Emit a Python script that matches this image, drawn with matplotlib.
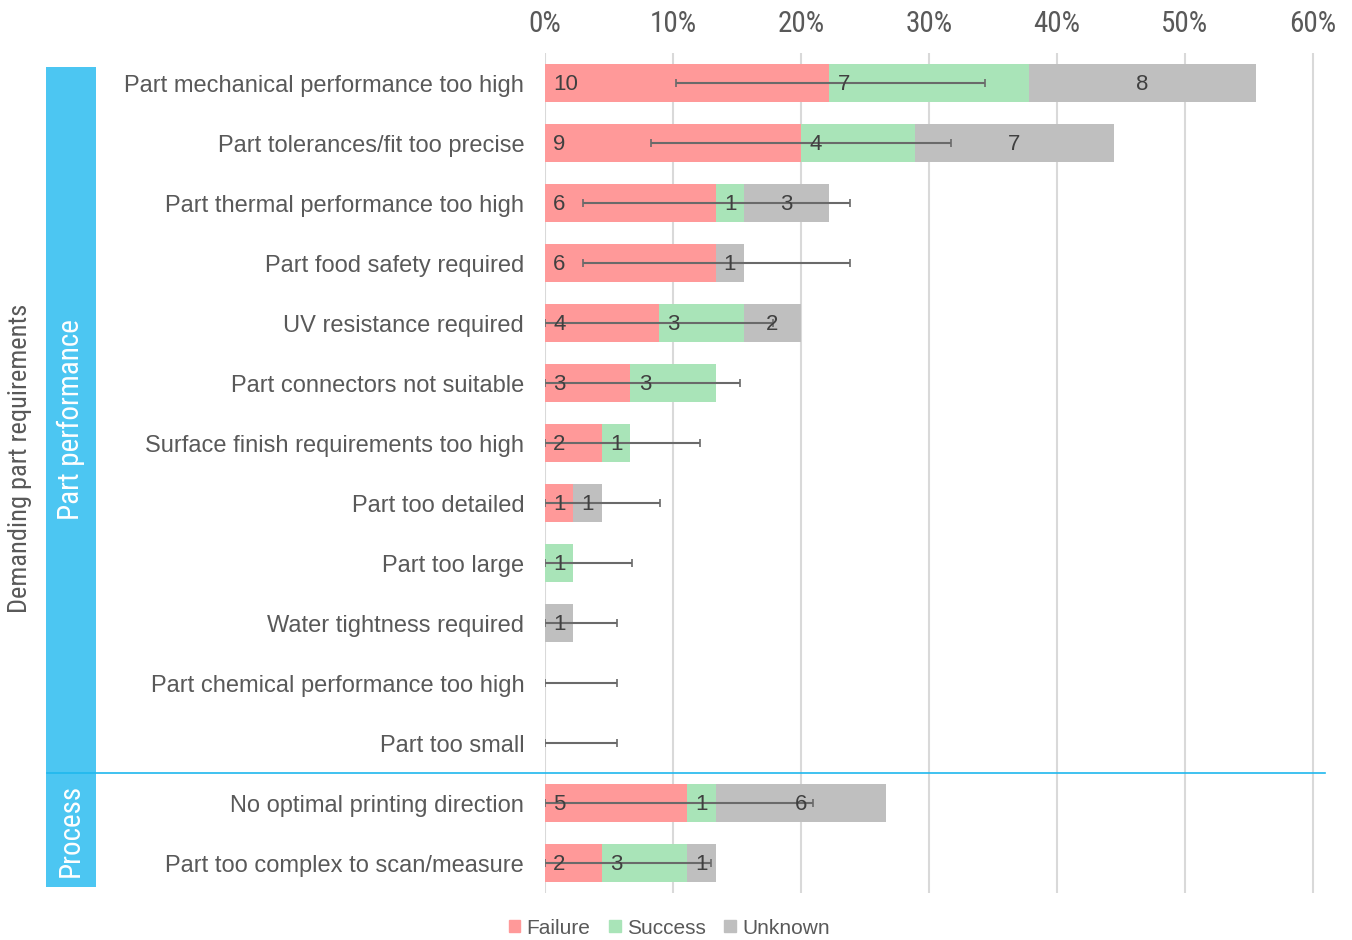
import matplotlib
matplotlib.use("Agg")
import matplotlib.pyplot as plt
import matplotlib.transforms as mtransforms
from matplotlib.patches import Rectangle, Patch
from matplotlib.lines import Line2D
from matplotlib.ticker import PercentFormatter
import numpy as np

# data (counts out of 45 cases)
categories = [
    "Part mechanical performance too high",
    "Part tolerances/fit too precise",
    "Part thermal performance too high",
    "Part food safety required",
    "UV resistance required",
    "Part connectors not suitable",
    "Surface finish requirements too high",
    "Part too detailed",
    "Part too large",
    "Water tightness required",
    "Part chemical performance too high",
    "Part too small",
    "No optimal printing direction",
    "Part too complex to scan/measure",
]
failure = [10, 9, 6, 6, 4, 3, 2, 1, 0, 0, 0, 0, 5, 2]
success = [7, 4, 1, 0, 3, 3, 1, 0, 1, 0, 0, 0, 1, 3]
unknown = [8, 7, 3, 1, 2, 0, 0, 1, 0, 1, 0, 0, 6, 1]
n_total = 45
# confidence interval of failure share, in %
ci_low = [10.2, 8.3, 3.0, 3.0, 0, 0, 0, 0, 0, 0, 0, 0, 0, 0]
ci_high = [34.4, 31.7, 23.8, 23.8, 17.8, 15.2, 12.1, 9.0, 6.8, 5.6, 5.6, 5.6, 20.9, 13.0]
groups = ["Part performance", "Process"]
outer_label = "Demanding part requirements"

col_fail = "#FF9999"
col_succ = "#A9E4B8"
col_unk = "#BFBFBF"
col_text = "#595959"
col_group = "#4CC6F2"
narrow = ["Roboto Condensed", "Liberation Sans Narrow", "DejaVu Sans Condensed", "DejaVu Sans"]

fig = plt.figure(figsize=(13.52, 9.4), dpi=100)
ax = fig.add_axes([545 / 1352, 47 / 940, 780 / 1352, 840 / 940])

y = np.arange(len(categories))
f = np.array(failure) / n_total * 100
s = np.array(success) / n_total * 100
u = np.array(unknown) / n_total * 100

ax.barh(y, f, height=0.62, color=col_fail, zorder=2)
ax.barh(y, s, left=f, height=0.62, color=col_succ, zorder=2)
ax.barh(y, u, left=f + s, height=0.62, color=col_unk, zorder=2)

lo = np.clip(f - np.array(ci_low), 0, None)
hi = np.array(ci_high) - f
ax.errorbar(f, y, xerr=[lo, hi], fmt="none", ecolor="#6a6a6a", elinewidth=1.5,
            capsize=3, capthick=1.2, zorder=3)

# count labels
lab_kw = dict(fontsize=16, color="#404040", family="Liberation Sans", zorder=4)
for i in range(len(categories)):
    if failure[i] > 0:
        ax.annotate(str(failure[i]), (0, y[i] + 0.02), xytext=(6, 0), textcoords="offset points",
                    ha="left", va="center", **lab_kw)
    if success[i] > 0:
        ax.annotate(str(success[i]), (f[i], y[i] + 0.02), xytext=(6, 0), textcoords="offset points",
                    ha="left", va="center", **lab_kw)
    if unknown[i] > 0:
        ax.text(f[i] + s[i] + u[i] / 2, y[i] + 0.02, str(unknown[i]), ha="center", va="center",
                **lab_kw)

ax.set_xlim(0, 780 / 12.8)
ax.set_ylim(len(categories) - 0.5, -0.5)
ax.set_xticks(np.arange(0, 61, 10))
ax.xaxis.set_major_formatter(PercentFormatter(xmax=100, decimals=0))
ax.xaxis.tick_top()
ax.tick_params(axis="x", length=0, pad=11, labelsize=21, colors=col_text)
for lab in ax.get_xticklabels():
    lab.set_family(narrow)
ax.set_yticks(y)
ax.set_yticklabels(categories, fontsize=17, color=col_text, family="Liberation Sans")
ax.tick_params(axis="y", length=0, pad=15)
ax.grid(axis="x", color="#D9D9D9", lw=1.5, zorder=0)
ax.set_axisbelow(True)
for sp in ax.spines.values():
    sp.set_visible(False)

# group boxes on the left
trans = mtransforms.blended_transform_factory(fig.transFigure, ax.transData)
x0, x1 = 46 / 1352, 96 / 1352
tops = [-0.27, 11.5]
bottoms = [11.5, 13.4]
for g, t, b in zip(groups, tops, bottoms):
    fig.add_artist(Rectangle((x0, t), x1 - x0, b - t, transform=trans,
                             color=col_group, lw=0, zorder=1))
    fig.text((x0 + x1) / 2, (t + b) / 2, g, transform=trans, rotation=90,
             ha="center", va="center", color="white", fontsize=21, family=narrow)
fig.add_artist(Line2D([47 / 1352, 1325 / 1352], [11.5, 11.5], transform=trans,
                      color="#1FB8EE", lw=1.2, zorder=3))
fig.text(20 / 1352, 1 - 458 / 940, outer_label, rotation=90, ha="center", va="center",
         color=col_text, fontsize=19, family=narrow)

handles = [Patch(color=col_fail), Patch(color=col_succ), Patch(color=col_unk)]
fig.legend(handles, ["Failure", "Success", "Unknown"], loc="center",
           bbox_to_anchor=(0.495, 1 - 928 / 940), ncol=3, frameon=False,
           handlelength=0.55, handleheight=0.55, handletextpad=0.3, columnspacing=0.9,
           prop={"family": "Liberation Sans", "size": 15}, labelcolor=col_text)

fig.savefig("out.png", dpi=100)
